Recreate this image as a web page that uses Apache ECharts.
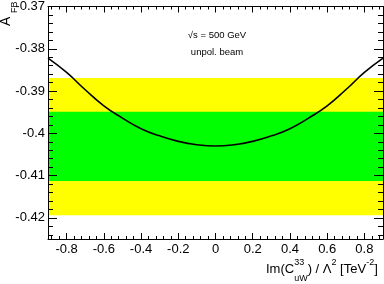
<!DOCTYPE html>
<html><head><meta charset="utf-8">
<script src="https://cdn.jsdelivr.net/npm/echarts@6/dist/echarts.min.js"></script>
<style>html,body{margin:0;padding:0;background:#fff}#c{width:384px;height:284px}</style>
</head><body><div id="c"></div>
<script>
// Data
const xValues = [-0.9,-0.8,-0.7,-0.6,-0.5,-0.4,-0.3,-0.2,-0.1,0,0.1,0.2,0.3,0.4,0.5,0.6,0.7,0.8,0.9];
const afbValues = [-0.3822,-0.3856,-0.3897,-0.3935,-0.3964,-0.3989,-0.4006,-0.4019,-0.4027,-0.4030,-0.4027,-0.4019,-0.4006,-0.3989,-0.3964,-0.3935,-0.3897,-0.3856,-0.3822];
const yellowBand = [-0.3869, -0.4194];
const greenBand = [-0.3949, -0.4113];
const xRange = [-0.9, 0.9];
const yRange = [-0.425, -0.37];
const textLine1 = '√s = 500 GeV';
const textLine2 = 'unpol. beam';

const FONT = '"Liberation Sans", Arial, Helvetica, sans-serif';
const chart = echarts.init(document.getElementById('c'), null, {renderer: 'canvas'});

function mkX(pos, labels) {
  return {
    type: 'value', position: pos, min: xRange[0], max: xRange[1],
    splitNumber: 9, minInterval: 0.2, maxInterval: 0.2, z: 10,
    axisLine: {show: true, onZero: false, lineStyle: {color: '#000', width: 1}},
    axisTick: {show: true, inside: true, length: 6, lineStyle: {color: '#000', width: 1}},
    minorTick: {show: true, splitNumber: 5, length: 3, lineStyle: {color: '#000', width: 1}},
    splitLine: {show: false},
    axisLabel: {show: labels, showMinLabel: false, showMaxLabel: false, margin: 4,
      color: '#000', fontSize: 13, fontFamily: FONT}
  };
}
function mkY(pos, labels) {
  return {
    type: 'value', position: pos, min: yRange[0], max: yRange[1],
    splitNumber: 5, minInterval: 0.01, maxInterval: 0.01, z: 10,
    axisLine: {show: true, onZero: false, lineStyle: {color: '#000', width: 1}},
    axisTick: {show: true, inside: true, length: 9, lineStyle: {color: '#000', width: 1}},
    minorTick: {show: true, splitNumber: 5, length: 5, lineStyle: {color: '#000', width: 1}},
    splitLine: {show: false},
    axisLabel: {show: labels, showMinLabel: false, margin: 3,
      color: '#000', fontSize: 13, fontFamily: FONT}
  };
}

// measure text widths for composing the x-axis title
const cv = document.createElement('canvas').getContext('2d');
function tw(t, size) { cv.font = size + 'px ' + FONT; return cv.measureText(t).width; }

const big = 13, small = 9;
const titleParts = [];
let cx = 266; const cy = 269.5;
function addText(t, size, x, y) {
  titleParts.push({type: 'text', x: x, y: y, style: {text: t, fill: '#000', font: size + 'px ' + FONT, textAlign: 'left', textVerticalAlign: 'middle'}});
}
addText('Im(C', big, cx, cy); cx += tw('Im(C', big);
addText('33', small, cx, cy - 7); addText('uW', small, cx, cy + 9);
cx += Math.max(tw('33', small), tw('uW', small));
addText(') / Λ', big, cx, cy); cx += tw(') / Λ', big);
addText('2', small, cx, cy - 7); cx += tw('2', small);
addText(' [TeV', big, cx, cy); cx += tw(' [TeV', big);
addText('-2', small, cx, cy - 7); cx += tw('-2', small);
addText(']', big, cx, cy);

const graphics = titleParts.concat([
  {type: 'text', x: 6, y: 26, rotation: Math.PI / 2,
   style: {text: 'A', fill: '#000', font: '14px ' + FONT, textAlign: 'left', textVerticalAlign: 'middle'}},
  {type: 'text', x: 14.5, y: 13, rotation: Math.PI / 2,
   style: {text: 'FB', fill: '#000', font: '9px ' + FONT, textAlign: 'left', textVerticalAlign: 'middle'}},
  {type: 'text', x: 217, y: 35,
   style: {text: textLine1, fill: '#000', font: '9.5px ' + FONT, textAlign: 'center', textVerticalAlign: 'middle'}},
  {type: 'text', x: 217, y: 52,
   style: {text: textLine2, fill: '#000', font: '9.5px ' + FONT, textAlign: 'center', textVerticalAlign: 'middle'}}
]);

chart.setOption({
  animation: false,
  backgroundColor: '#fff',
  grid: {left: 48, right: 1, top: 5, bottom: 45},
  xAxis: [mkX('bottom', true), mkX('top', false)],
  yAxis: [mkY('left', true), mkY('right', false)],
  graphic: graphics,
  series: [
    {
      type: 'line', data: [], z: 1, silent: true,
      markArea: {
        silent: true,
        data: [
          [{xAxis: xRange[0], yAxis: yellowBand[0], itemStyle: {color: '#ffff00'}}, {xAxis: xRange[1], yAxis: yellowBand[1]}],
          [{xAxis: xRange[0], yAxis: greenBand[0], itemStyle: {color: '#00ff00'}}, {xAxis: xRange[1], yAxis: greenBand[1]}]
        ]
      }
    },
    {
      type: 'line', z: 5, smooth: true, showSymbol: false, symbol: 'none',
      data: xValues.map((x, i) => [x, afbValues[i]]),
      lineStyle: {color: '#000', width: 1.6}
    }
  ]
});
</script>
</body></html>
